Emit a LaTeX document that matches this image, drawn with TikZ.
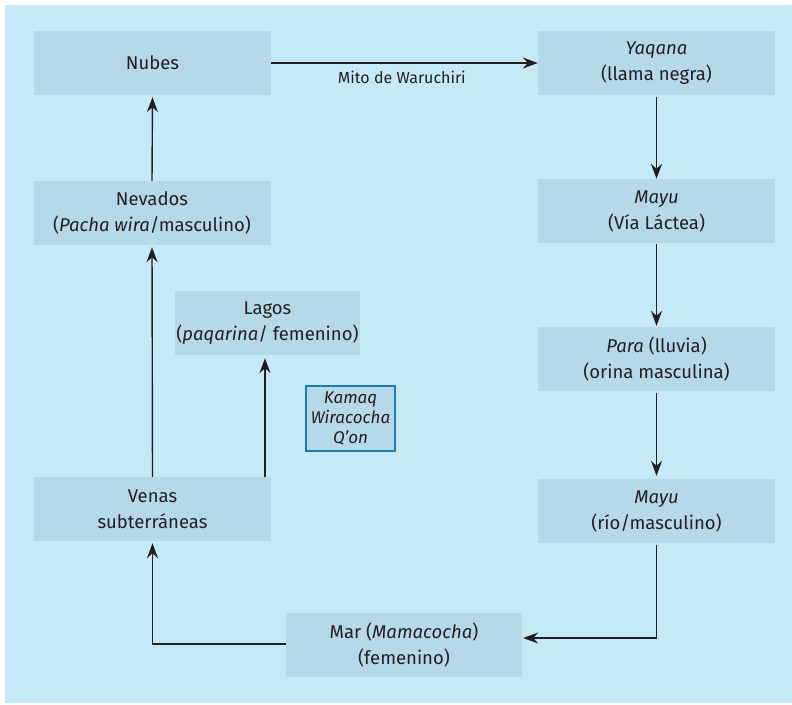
\documentclass[tikz,border=0pt]{standalone}
\usepackage{fontspec}
\setmainfont{Fira Sans}
\usetikzlibrary{arrows.meta}
\definecolor{panel}{HTML}{C6E9F8}
\definecolor{boxfill}{HTML}{B6D9EA}
\definecolor{frameblue}{HTML}{1B7DA6}
\definecolor{ink}{HTML}{231F20}
\tikzset{
  stage/.style={fill=boxfill, draw=none, inner sep=0pt, align=center,
    minimum width=237pt, minimum height=64pt, text=ink,
    font=\fontsize{18.5}{26}\selectfont},
  flow/.style={draw=ink, line width=1.4pt,
    -{Stealth[length=15pt,width=11pt,inset=5pt]}},
}
\begin{document}
\begin{tikzpicture}[x=1pt,y=-1pt]
\useasboundingbox (0,0) rectangle (792,704);
\fill[panel] (5,5) rectangle (792,703);

% left column
\node[stage] (nubes) at (152.5,63) {Nubes};
\node[stage] (nevados) at (152,213) {Nevados\\(\textit{Pacha wira}/masculino)};
\node[stage] (venas) at (152.5,509) {Venas\\subterráneas};
\node[stage, minimum width=185pt] (lagos) at (267.5,323)
  {Lagos\\(\textit{paqarina}/ femenino)};

% centre
\node[fill=boxfill, draw=frameblue, line width=2pt, inner sep=0pt,
  minimum width=89pt, minimum height=65pt, align=center, text=ink,
  font=\fontsize{17}{20}\selectfont\itshape] (kamaq) at (350.5,418.5)
  {Kamaq\\Wiracocha\\Q’on};

% right column
\node[stage] (yaqana) at (656.5,63) {\textit{Yaqana}\\(llama negra)};
\node[stage] (mayu1) at (656.5,211) {\textit{Mayu}\\(Vía Láctea)};
\node[stage] (para) at (656.5,359) {\textit{Para} (lluvia)\\(orina masculina)};
\node[stage] (mayu2) at (656.5,511) {\textit{Mayu}\\(río/masculino)};

% bottom
\node[stage, minimum width=236pt] (mar) at (404,645)
  {Mar (\textit{Mamacocha})\\(femenino)};

% connectors
\draw[flow] (nubes.east) -- (yaqana.west)
  node[pos=0.49, below=4pt, text=ink, font=\fontsize{16}{19}\selectfont] (mito) {Mito de Waruchiri};
\draw[flow, shorten >=2pt] (nevados.north) -- (nubes.south);
\draw[flow, shorten >=2pt] (venas.north) -- (nevados.south);
\coordinate (vtop) at ([xshift=-2.5pt]venas.north -| lagos.south);
\draw[flow, shorten >=3pt] (vtop) -- (vtop |- lagos.south);
\draw[flow, shorten <=2pt] (yaqana.south) -- (mayu1.north);
\draw[flow, shorten <=1pt, shorten >=1pt] (mayu1.south) -- (para.north);
\draw[flow, shorten <=2pt, shorten >=3pt] (para.south) -- (mayu2.north);
\draw[flow, shorten <=2pt, shorten >=1pt] (mayu2.south) |- ([yshift=7pt]mar.east);
\draw[flow, shorten >=2pt] ([yshift=1pt]mar.west) -| (venas.south);
\end{tikzpicture}
\end{document}
